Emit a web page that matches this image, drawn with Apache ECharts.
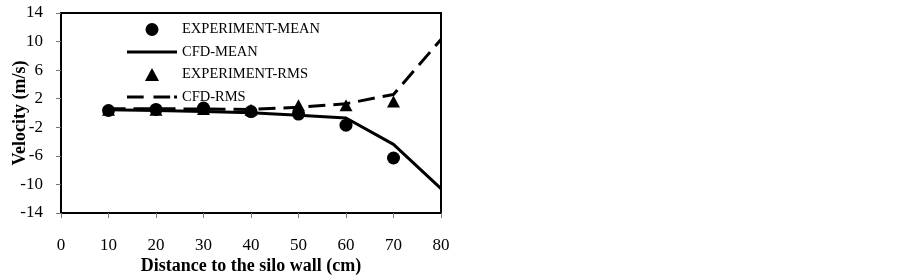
<!DOCTYPE html>
<html>
<head>
<meta charset="utf-8">
<script src="https://cdn.jsdelivr.net/npm/echarts@6/dist/echarts.min.js"></script>
<style>
  html, body { margin: 0; padding: 0; background: #fff; }
  #main { width: 903px; height: 280px; }
</style>
</head>
<body>
<div id="main"></div>
<script>
// distance to the silo wall (cm)
var distance = [10, 20, 30, 40, 50, 60, 70];
var distanceCfd = [10, 20, 30, 40, 50, 60, 70, 80];

// velocity (m/s)
var expMean = [0.35, 0.5, 0.7, 0.2, -0.15, -1.7, -6.3];
var cfdMean = [0.45, 0.35, 0.2, 0.05, -0.3, -0.7, -4.4, -10.6];
var expRms = [0.45, 0.45, 0.55, 0.45, 1.1, 1.1, 1.6];
var cfdRms = [0.6, 0.6, 0.55, 0.5, 0.8, 1.3, 2.6, 10.3];

var legendNames = ['EXPERIMENT-MEAN', 'CFD-MEAN', 'EXPERIMENT-RMS', 'CFD-RMS'];

var pair = function(xs, ys) {
  return xs.map(function(x, i) { return [x, ys[i]]; });
};

var serif = 'Liberation Serif';

// legend icons (keep aspect so they are not stretched)
var icons = [
  'circle',
  'path://M0,0h51v3h-51z',
  'path://M6.5,0L13,12L0,12Z',
  'path://M0,0h17v3h-17z M27,0h17v3h-17z M48,0h3v3h-3z'
];

var myChart = echarts.init(document.getElementById('main'));

var option = {
  animation: false,
  textStyle: { fontFamily: serif, color: '#000' },
  legend: {
    data: legendNames.map(function(n, i) {
      return { name: n, icon: icons[i], itemStyle: { color: '#000' } };
    }),
    orient: 'vertical',
    left: 127,
    top: 22,
    padding: 0,
    itemWidth: 50,
    itemHeight: 13,
    itemGap: 7.5,
    symbolKeepAspect: true,
    textStyle: { fontFamily: serif, fontSize: 14.5, color: '#000' }
  },
  grid: {
    left: 61,
    top: 13,
    right: 462,
    bottom: 66,
    show: true,
    borderColor: '#000',
    borderWidth: 2
  },
  xAxis: {
    type: 'value',
    min: 0,
    max: 80,
    interval: 10,
    name: 'Distance to the silo wall (cm)',
    nameLocation: 'middle',
    nameGap: 44,
    nameMoveOverlap: false,
    nameTextStyle: { fontFamily: serif, fontSize: 18, fontWeight: 'bold', color: '#000' },
    axisLine: { onZero: false, lineStyle: { color: '#000', width: 2 } },
    axisTick: { inside: false, length: 5, lineStyle: { color: '#777' } },
    axisLabel: { fontFamily: serif, fontSize: 17, color: '#000', margin: 24 },
    splitLine: { show: false }
  },
  yAxis: {
    type: 'value',
    min: -14,
    max: 14,
    interval: 4,
    name: 'Velocity (m/s)',
    nameLocation: 'middle',
    nameGap: 32,
    nameMoveOverlap: false,
    nameTextStyle: { fontFamily: serif, fontSize: 18, fontWeight: 'bold', color: '#000' },
    axisLine: { onZero: false, lineStyle: { color: '#000', width: 2 } },
    axisTick: { inside: false, length: 5, lineStyle: { color: '#777' } },
    axisLabel: { fontFamily: serif, fontSize: 17, color: '#000', margin: 18 },
    splitLine: { show: false }
  },
  series: [{
    name: legendNames[0],
    type: 'scatter',
    symbol: 'circle',
    symbolSize: 13,
    itemStyle: { color: '#000', opacity: 1 },
    data: pair(distance, expMean),
    z: 5
  }, {
    name: legendNames[1],
    type: 'line',
    symbol: 'none',
    lineStyle: { color: '#000', width: 3 },
    itemStyle: { color: '#000' },
    data: pair(distanceCfd, cfdMean),
    z: 3
  }, {
    name: legendNames[2],
    type: 'scatter',
    symbol: 'triangle',
    symbolSize: [13, 12],
    itemStyle: { color: '#000', opacity: 1 },
    data: pair(distance, expRms),
    z: 5
  }, {
    name: legendNames[3],
    type: 'line',
    symbol: 'none',
    lineStyle: { color: '#000', width: 3, type: [17, 8] },
    itemStyle: { color: '#000' },
    data: pair(distanceCfd, cfdRms),
    z: 3
  }]
};

myChart.setOption(option);
</script>
</body>
</html>
